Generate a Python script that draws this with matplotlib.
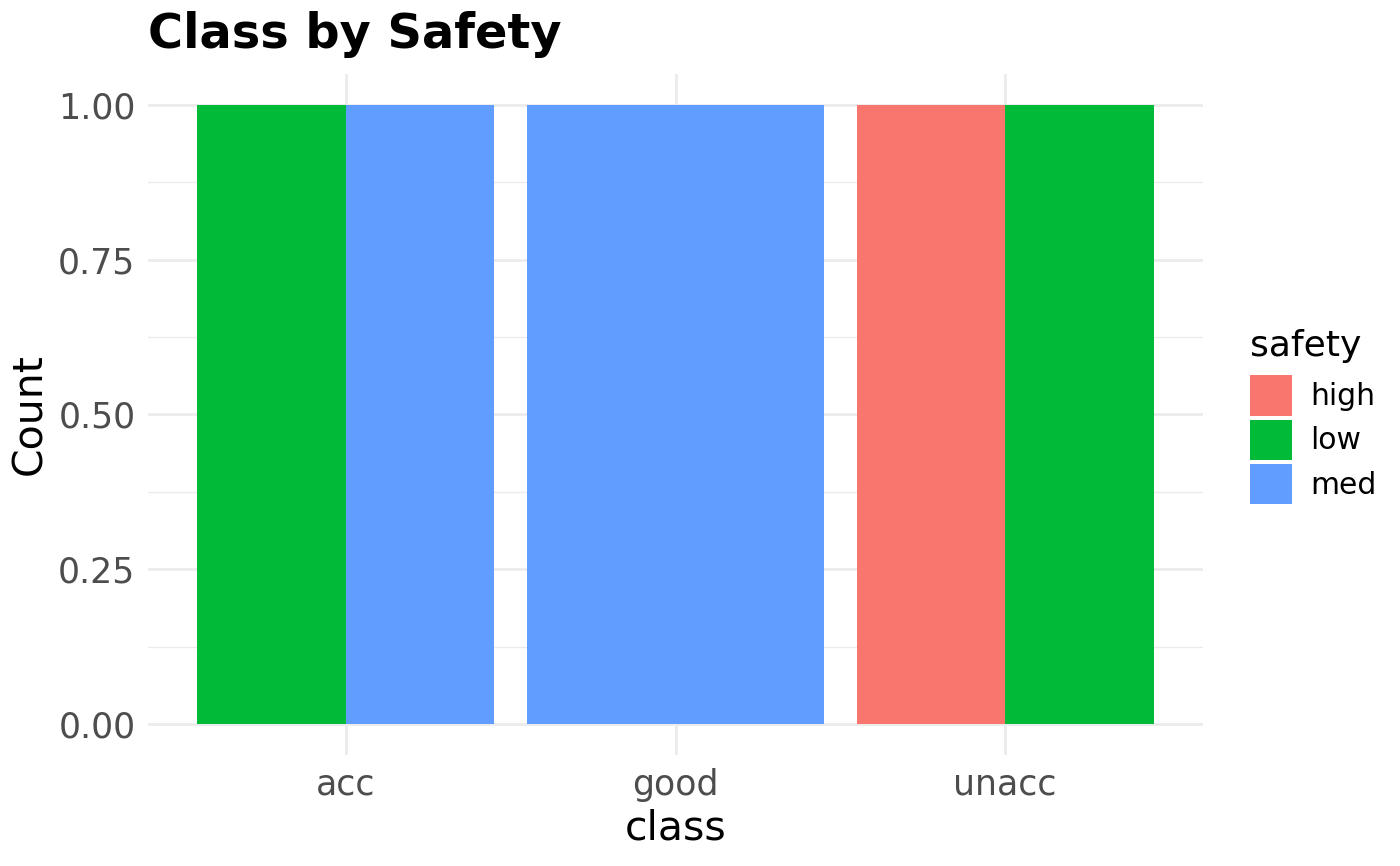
import matplotlib
matplotlib.use("Agg")
import matplotlib.pyplot as plt
from matplotlib.patches import Patch
import numpy as np

categories = ["acc", "good", "unacc"]
safety_levels = ["high", "low", "med"]
colors = {"high": "#F8766D", "low": "#00BA38", "med": "#619CFF"}
# per class: safety levels present and their counts
acc_safety = ["low", "med"]
acc_counts = [1, 1]
good_safety = ["med"]
good_counts = [1]
unacc_safety = ["high", "low"]
unacc_counts = [1, 1]
groups = [(acc_safety, acc_counts), (good_safety, good_counts), (unacc_safety, unacc_counts)]

fig = plt.figure(figsize=(14, 8.66), dpi=100)
W, H = 1400, 866
ax = fig.add_axes([148 / W, (866 - 755) / H, (1203 - 148) / W, (755 - 74) / H])

total_w = 0.9
for i, (saf, cnt) in enumerate(groups):
    n = len(saf)
    w = total_w / n
    for j, (s, c) in enumerate(zip(saf, cnt)):
        x = i + 1 - total_w / 2 + w * j
        ax.bar(x, c, width=w, align="edge", color=colors[s], zorder=3)

ax.set_xlim(0.4, 3.6)
ax.set_ylim(-0.05, 1.05)
ax.set_xticks([1, 2, 3])
ax.set_xticklabels(categories)
ax.set_yticks([0, 0.25, 0.5, 0.75, 1.0])
ax.set_yticklabels(["0.00", "0.25", "0.50", "0.75", "1.00"])
ax.set_yticks([0.125, 0.375, 0.625, 0.875], minor=True)

for s in ax.spines.values():
    s.set_visible(False)
ax.grid(which="major", color="#EBEBEB", linewidth=2.0, zorder=0)
ax.grid(which="minor", axis="y", color="#EBEBEB", linewidth=1.0, zorder=0)
ax.tick_params(which="both", length=0, labelsize=25, labelcolor="#4D4D4D")
ax.tick_params(axis="x", pad=9)
ax.tick_params(axis="y", pad=9)

ax.set_xlabel("class", fontsize=29.5, labelpad=5)
ax.set_ylabel("Count", fontsize=29.5, labelpad=6)
fig.text(148 / W, 1 - 35 / H, "Class by Safety", fontsize=34.5, fontweight="bold", va="center", ha="left")

handles = [Patch(facecolor=colors[s], edgecolor="none") for s in safety_levels]
leg = fig.legend(handles, safety_levels, loc="upper left", bbox_to_anchor=(1226 / W, 1 - 305 / H),
                 frameon=False, fontsize=21.5, title="safety", title_fontsize=26,
                 handlelength=1.4, handleheight=1.7, labelspacing=0.13, handletextpad=0.63,
                 alignment="left", borderpad=0.3)
leg._legend_box.sep = 9

fig.savefig("out.png", dpi=100)
